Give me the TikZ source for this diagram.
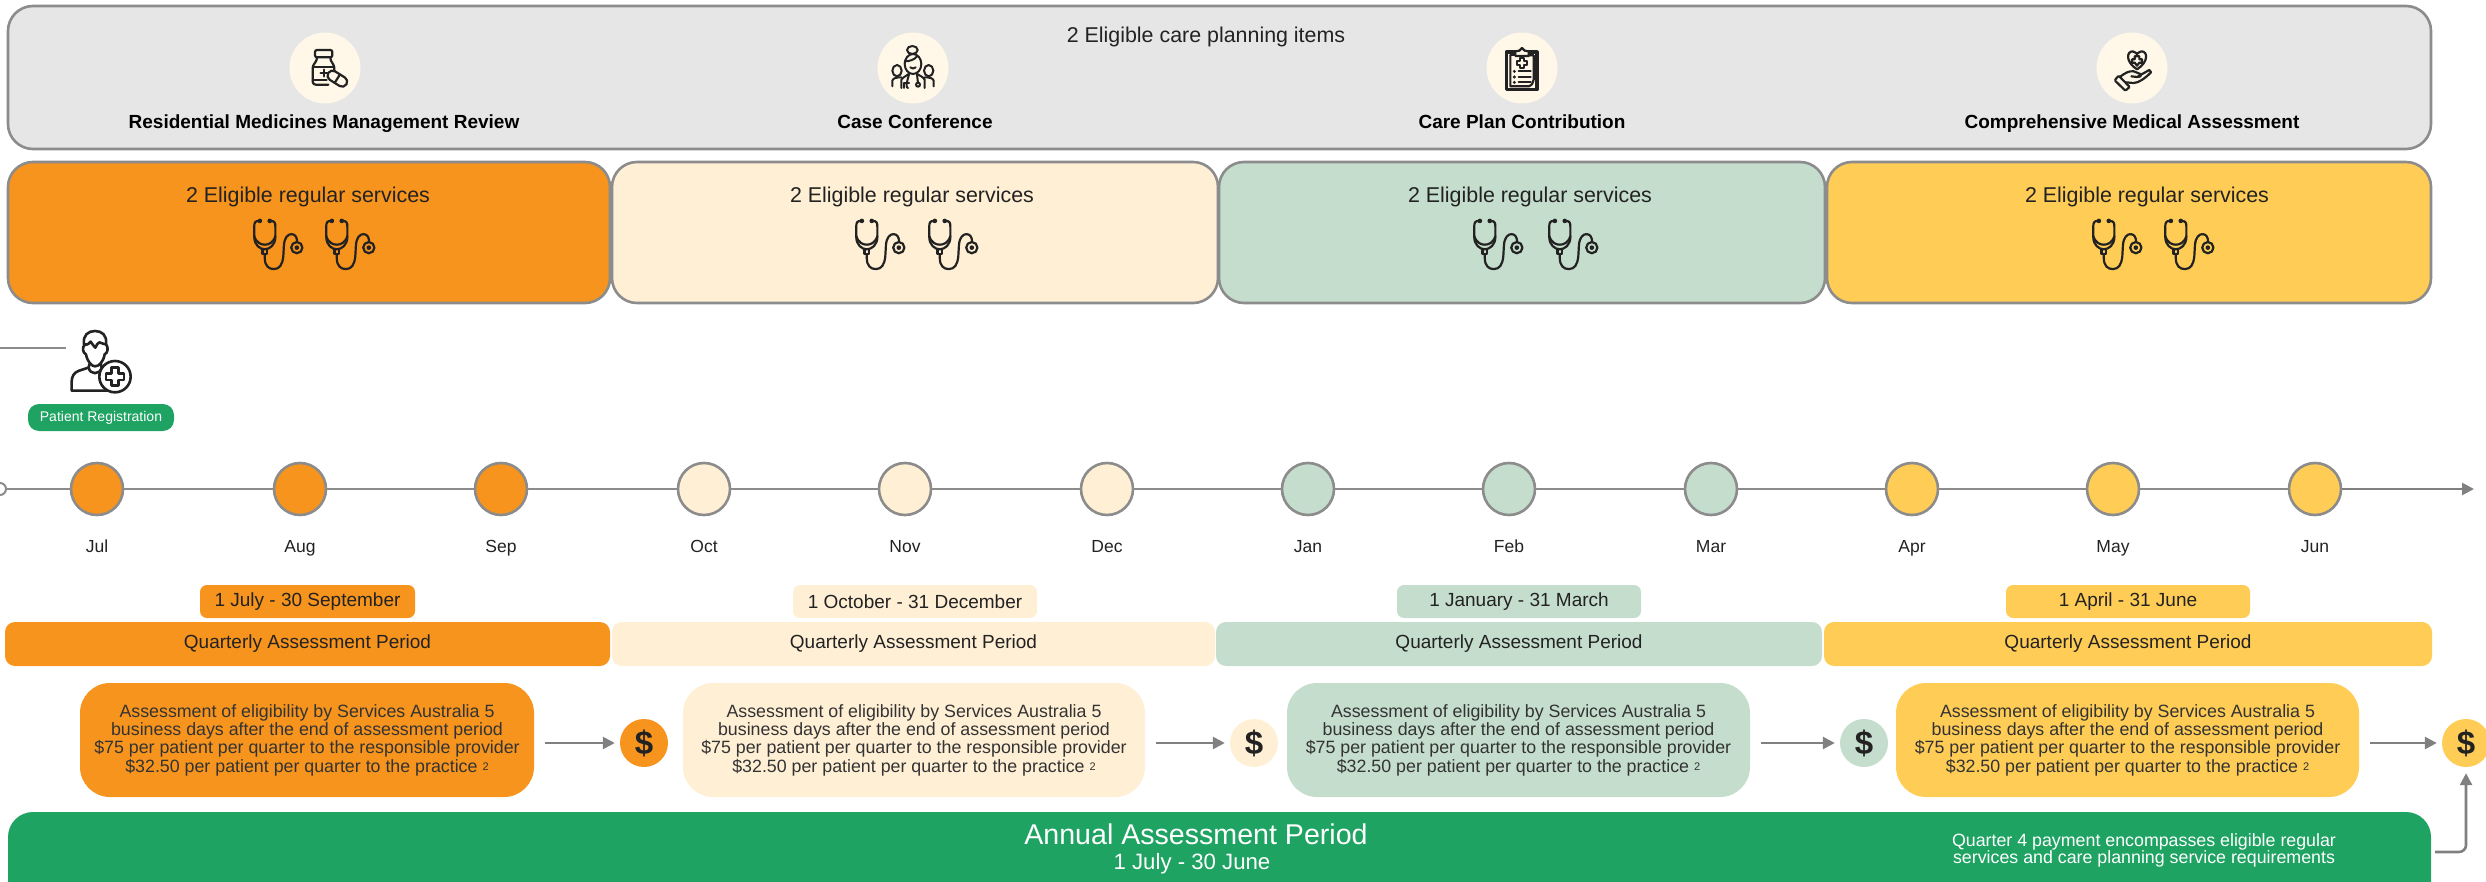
\documentclass[tikz,border=0pt]{standalone}
\usepackage{fontspec}
\setmainfont{Liberation Sans}
\usetikzlibrary{arrows.meta,shapes.geometric}
\definecolor{cOrange}{HTML}{F7941D}
\definecolor{cCream}{HTML}{FFEFD5}
\definecolor{cSage}{HTML}{C5DDCD}
\definecolor{cGold}{HTML}{FFCC55}
\definecolor{cPanel}{HTML}{E6E6E6}
\definecolor{cGreen}{HTML}{1EA362}
\definecolor{cRim}{HTML}{8C8C8C}
\definecolor{cArrow}{HTML}{808080}
\definecolor{cIconBg}{HTML}{FFF7E8}
\definecolor{cInk}{HTML}{222222}
\definecolor{cBody}{HTML}{333333}
\tikzset{
  panelbox/.style={draw=cRim,line width=2.6pt,rounded corners=25pt,inner sep=0pt,outer sep=0pt},
  datebox/.style={rounded corners=7pt,inner sep=0pt,minimum height=33pt,font=\fontsize{19}{20}\selectfont,text=cInk},
  barbox/.style={rounded corners=10pt,inner sep=0pt,minimum height=44pt,font=\fontsize{19}{20}\selectfont,text=cInk},
  assessbox/.style={rounded corners=30pt,inner sep=0pt,minimum height=114pt,align=center,text=cBody,font=\fontsize{17.8}{18.4}\selectfont},
  dollar/.style={circle,minimum size=48pt,inner sep=0pt,text=cInk,font=\fontsize{33}{33}\selectfont\bfseries},
  monthdot/.style={circle,draw=cRim,line width=2.6pt,minimum size=52pt,inner sep=0pt},
  monthtxt/.style={inner sep=0pt,anchor=base,text=cInk,font=\fontsize{17.5}{20}\selectfont},
  icondisc/.style={circle,fill=cIconBg,minimum size=71pt,inner sep=0pt},
  itemtxt/.style={inner sep=0pt,anchor=base,text=black,font=\fontsize{19}{20}\selectfont\bfseries},
  qtitle/.style={inner sep=0pt,anchor=base,text=cInk,font=\fontsize{21.4}{24}\selectfont},
  flow/.style={draw=cArrow,line width=2.6pt,-{Triangle[length=12pt,width=12pt]}},
  rule/.style={draw=cRim,line width=2.6pt},
  icon/.style={draw=cInk,line width=2.2pt,line cap=round,line join=round},
  stetho/.pic={
    \begin{scope}[x=0.33pt,y=-0.33pt,shift={(-100,-95)},icon]
      \fill[cInk] (45,22) circle (7) (75,22) circle (7);
      \draw (42,22) .. controls (30,22) and (28,28) .. (28,40) -- (28,70) .. controls (28,95) and (45,108) .. (60,108) .. controls (75,108) and (92,95) .. (92,70) -- (92,40) .. controls (92,28) and (90,22) .. (78,22);
      \draw (28,68) .. controls (35,90) and (50,94) .. (60,94) .. controls (70,94) and (85,90) .. (92,68);
      \draw (53,108) -- (53,122) -- (67,122) -- (67,108);
      \draw (60,122) -- (60,135) .. controls (60,158) and (72,168) .. (87,168) .. controls (105,168) and (113,155) .. (116,130) -- (118,95) .. controls (120,72) and (130,62) .. (141,62) .. controls (152,62) and (158,72) .. (158,86);
      \draw (157,103) circle (17);
      \fill[cInk] (157,103) circle (7);
    \end{scope}},
  bottle/.pic={
    \begin{scope}[x=0.3333pt,y=-0.3333pt,shift={(-120,-120)},icon]
      \draw[rounded corners=2pt] (90,66) rectangle (142,88);
      \draw[rounded corners=3pt] (96,88) -- (96,98) -- (83,112) -- (83,170) -- (130,170);
      \draw[rounded corners=3pt] (136,88) -- (136,98) -- (148,112) -- (148,128);
      \draw (83,118) -- (148,118);
      \draw (83,155) -- (125,155);
      \draw[line width=2.6pt] (117,125) -- (117,145) (107,135) -- (127,135);
      \begin{scope}[shift={(157,152)},rotate=-32]
        \draw[fill=cIconBg,rounded corners=4.8pt] (-32,-15) rectangle (32,15);
        \draw (0,-15) -- (0,15);
      \end{scope}
    \end{scope}},
  carers/.pic={
    \begin{scope}[x=0.3333pt,y=-0.3333pt,shift={(-120,-120)},icon,line width=2pt]
      \draw (118,66) ellipse (16 and 12);
      \draw (120,108) ellipse (25 and 30);
      \draw (95,100) .. controls (110,100) and (125,95) .. (132,85);
      \draw (112,118) .. controls (116,123) and (124,123) .. (128,118);
      \draw (72,128) ellipse (14 and 17);
      \draw (167,128) ellipse (14 and 17);
      \draw (58,175) -- (58,158) .. controls (60,150) and (72,148) .. (85,148);
      \draw (182,175) -- (182,158) .. controls (180,150) and (168,148) .. (155,148);
      \draw (85,180) -- (85,155) .. controls (92,145) and (105,142) .. (110,135) (155,180) -- (155,155) .. controls (150,145) and (135,142) .. (130,135);
      \draw (108,140) .. controls (100,165) and (98,180) .. (105,180) (132,140) -- (135,165);
      \draw (135,170) circle (6);
      \draw (92,180) -- (92,165) -- (108,165);
    \end{scope}},
  clipbd/.pic={
    \begin{scope}[x=0.3333pt,y=-0.3333pt,shift={(-120,-120)},icon]
      \draw[line width=3.2pt] (100,72) -- (73,72) -- (73,185) -- (165,185) -- (165,72) -- (140,72);
      \draw (85,82) -- (85,175) -- (140,175) .. controls (150,172) and (153,165) .. (155,155) -- (155,82) -- (140,82);
      \draw (100,82) -- (85,82);
      \draw[fill=cIconBg] (100,84) -- (100,70) -- (112,68) -- (120,60) -- (128,68) -- (140,70) -- (140,84) -- cycle;
      \draw (113,90) -- (127,90) -- (127,99) -- (136,99) -- (136,112) -- (127,112) -- (127,121) -- (113,121) -- (113,112) -- (104,112) -- (104,99) -- (113,99) -- cycle;
      \fill[cInk] (97,130) circle (5) (97,147) circle (5) (97,163) circle (5);
      \draw (110,130) -- (146,130) (110,147) -- (146,147) (110,163) -- (146,163);
    \end{scope}},
  carehand/.pic={
    \begin{scope}[x=0.3333pt,y=-0.3333pt,shift={(-120,-120)},icon]
      \draw (135,124) .. controls (100,102) and (103,70) .. (122,70) .. controls (128,70) and (135,78) .. (135,78) .. controls (135,78) and (142,70) .. (148,70) .. controls (168,70) and (170,102) .. (135,124);
      \draw (128,85) -- (142,85) -- (142,94) -- (150,94) -- (150,104) -- (142,104) -- (135,113) -- (128,104) -- (120,104) -- (120,94) -- (128,94) -- cycle;
      \draw[rounded corners=1pt] (68,157) -- (80,143) -- (113,177) -- (100,188) -- cycle;
      \draw (83,147) .. controls (100,135) and (110,128) .. (125,130) -- (145,138) .. controls (150,143) and (142,150) .. (135,147) -- (118,145);
      \draw (138,145) -- (172,126) -- (177,133) .. controls (160,150) and (140,165) .. (125,165) -- (100,163);
    \end{scope}},
  patient/.pic={
    \begin{scope}[x=0.3333pt,y=-0.3333pt,icon,line width=2.6pt]
      \draw (72,58) .. controls (68,30) and (85,18) .. (105,18) .. controls (125,18) and (142,30) .. (138,58);
      \draw (72,58) .. controls (85,62) and (88,52) .. (92,50) .. controls (98,58) and (102,65) .. (106,68) .. controls (110,60) and (112,55) .. (118,52) .. controls (125,52) and (132,60) .. (138,58);
      \draw (74,60) .. controls (66,65) and (68,85) .. (78,88) .. controls (82,110) and (95,124) .. (105,124) .. controls (118,124) and (130,110) .. (134,88) .. controls (144,85) and (146,65) .. (138,58);
      \draw (88,118) -- (86,128) .. controls (90,150) and (120,150) .. (125,128) -- (123,118);
      \draw (85,128) -- (55,138) .. controls (42,143) and (35,155) .. (35,170) -- (35,197) -- (165,197);
      \draw[fill=white] (165,155) circle (47);
      \draw (155,128) -- (175,128) -- (175,145) -- (192,145) -- (192,165) -- (175,165) -- (175,182) -- (155,182) -- (155,165) -- (138,165) -- (138,145) -- (155,145) -- cycle;
    \end{scope}},
}
\newcommand{\assesstext}{Assessment of eligibility by Services Australia 5\\business days after the end of assessment period\\\$75 per patient per quarter to the responsible provider\\\$32.50 per patient per quarter to the practice \raisebox{1.5pt}{\fontsize{11}{11}\selectfont 2}}
\begin{document}
\begin{tikzpicture}[x=1pt,y=-1pt]
\useasboundingbox (0,0) rectangle (2486,882);
\clip (0,0) rectangle (2486,882);
% care planning panel
\node[panelbox,fill=cPanel,minimum width=2423pt,minimum height=143pt] (panel) at (1219.5,77.5) {};
\node[qtitle] (paneltitle) at (1206,43) {2 Eligible care planning items};
\foreach \n/\cx/\lx/\lab/\ic in {a/325/324/Residential Medicines Management Review/bottle,b/913/915/Case Conference/carers,c/1522/1522/Care Plan Contribution/clipbd,d/2132/2132/Comprehensive Medical Assessment/carehand}{
  \node[icondisc] (disc\n) at (\cx,68) {};
  \pic at (\cx,68) {\ic};
  \node[itemtxt] (item\n) at (\lx,129) {\lab};
}
% quarter panels
\foreach \n/\cx/\w/\tx/\sa/\sb/\col in {1/309/602/308/278/350/cOrange,2/915/606/912/880/953/cCream,3/1522/606/1530/1498/1573/cSage,4/2129/604/2147/2117/2189/cGold}{
  \node[panelbox,fill=\col,minimum width=\w pt,minimum height=141pt] (q\n) at (\cx,232.5) {};
  \node[qtitle] (qt\n) at (\tx,203) {2 Eligible regular services};
  \pic at (\sa,245) {stetho};
  \pic at (\sb,245) {stetho};
}
% patient registration
\coordinate (regline) at (0,348);
\coordinate (regicon) at (66,348);
\draw[rule] (regline) -- (regicon);
\pic at (60,325) {patient};
\node[rounded corners=11pt,fill=cGreen,text=white,inner sep=0pt,minimum width=146pt,minimum height=27pt,font=\fontsize{14}{16}\selectfont] (reg) at (101,417.5) {Patient Registration};
% timeline
\node[circle,draw=cRim,fill=white,line width=2pt,minimum size=12pt,inner sep=0pt] (tstart) at (0,489) {};
\coordinate (tend) at (2474,489);
\foreach \i/\mx/\lab/\col in {1/97/Jul/cOrange,2/300/Aug/cOrange,3/501/Sep/cOrange,4/704/Oct/cCream,5/905/Nov/cCream,6/1107/Dec/cCream,7/1308/Jan/cSage,8/1509/Feb/cSage,9/1711/Mar/cSage,10/1912/Apr/cGold,11/2113/May/cGold,12/2315/Jun/cGold}{
  \node[monthdot,fill=\col] (m\i) at (\mx,489) {};
  \node[monthtxt] (ml\i) at (\mx,552) {\lab};
}
\draw[rule] (tstart) -- (m1);
\foreach \a/\b in {1/2,2/3,3/4,4/5,5/6,6/7,7/8,8/9,9/10,10/11,11/12}{\draw[rule] (m\a) -- (m\b);}
\draw[flow] (m12) -- (tend);
% quarter rows
\foreach \n/\dx/\dw/\dlab/\bx/\bw/\ax/\aw/\sx/\col in {
  1/307.5/215/1 July - 30 September/307.5/605/307/454/644/cOrange,
  2/915/244/1 October - 31 December/913.5/603/914/462/1254/cCream,
  3/1519/244/1 January - 31 March/1519/606/1518.5/463/1864/cSage,
  4/2128/244/1 April - 31 June/2128/608/2127.5/463/2466/cGold}{
  \node[datebox,fill=\col,minimum width=\dw pt] (date\n) at (\dx,601.5) {\dlab};
  \node[barbox,fill=\col,minimum width=\bw pt] (bar\n) at (\bx,644) {Quarterly Assessment Period};
  \node[assessbox,fill=\col,minimum width=\aw pt] (ass\n) at (\ax,740) {\assesstext};
  \node[dollar,fill=\col] (pay\n) at (\sx,743) {\$};
}
\foreach \n in {1,2,3,4}{\draw[flow,shorten <=11pt,shorten >=5pt] (ass\n.east |- pay\n) -- (pay\n);}
% annual panel
\node[rounded corners=25pt,fill=cGreen,inner sep=0pt,minimum width=2423pt,minimum height=110pt] (annual) at (1219.5,867) {};
\node[inner sep=0pt,text=white,font=\fontsize{28.6}{30}\selectfont] (annualt) at (1196,834) {Annual Assessment Period};
\node[inner sep=0pt,text=white,font=\fontsize{22.2}{24}\selectfont] (annuald) at (1192,864) {1 July - 30 June};
\node[inner sep=0pt,text=white,align=center,font=\fontsize{17.8}{16.8}\selectfont] (annualn) at (2144,850) {Quarter 4 payment encompasses eligible regular\\services and care planning service requirements};
\coordinate (elbow) at (2435,852);
\draw[flow,rounded corners=7pt,shorten >=6pt] (elbow) -| (pay4);
\end{tikzpicture}
\end{document}
